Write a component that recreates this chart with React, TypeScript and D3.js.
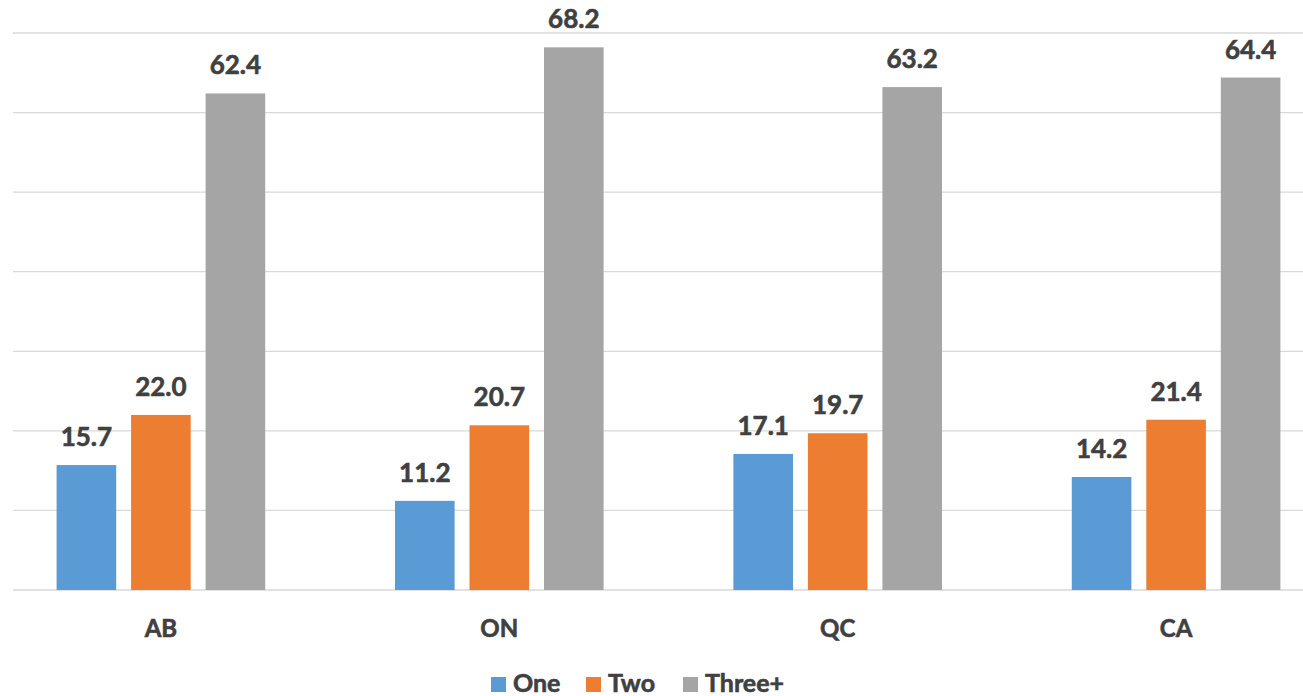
import React from "react";
import * as d3 from "d3";

const categories = ["AB", "ON", "QC", "CA"];
const seriesNames = ["One", "Two", "Three+"];
const one = [15.7, 11.2, 17.1, 14.2];
const two = [22.0, 20.7, 19.7, 21.4];
const threePlus = [62.4, 68.2, 63.2, 64.4];
const yTicks = [0, 10, 20, 30, 40, 50, 60, 70];

const colors = ["#5B9BD5", "#ED7D31", "#A5A5A5"];
const W = 1303;
const H = 696;
const FONT = "Lato, 'Open Sans', sans-serif";
const TEXT = "#404040";

export default function App() {
  const seriesValues = [one, two, threePlus];
  const x0 = d3.scaleBand<string>().domain(categories).range([-8.3, 1345.3]).padding(0);
  const x1 = d3
    .scaleBand<string>()
    .domain(seriesNames)
    .range([0, x0.bandwidth()])
    .paddingInner(0.2)
    .paddingOuter(0.871);
  const y = d3.scaleLinear().domain([0, 70]).range([590, 33]);

  const legendX = [491, 586, 683];
  const textStyle = { stroke: TEXT, strokeWidth: 0.6 };

  return (
    <svg
      width={W}
      height={H}
      style={{ position: "absolute", left: 0, top: 0, background: "#fff" }}
      fontFamily={FONT}
    >
      <rect x={0} y={0} width={W} height={H} fill="#fff" />
      {yTicks.map((t) => (
        <line key={t} x1={13} x2={W} y1={y(t)} y2={y(t)} stroke="#D9D9D9" strokeWidth={1.3} />
      ))}
      {categories.map((c, ci) => (
        <g key={c} transform={`translate(${x0(c)},0)`}>
          {seriesNames.map((s, si) => {
            const v = seriesValues[si][ci];
            const bx = x1(s)!;
            const bw = x1.bandwidth();
            return (
              <g key={s}>
                <rect x={bx} y={y(v)} width={bw} height={y(0) - y(v)} fill={colors[si]} />
                <text
                  x={bx + bw / 2}
                  y={y(v) - 19}
                  textAnchor="middle"
                  fontSize={26}
                  fontWeight="bold"
                  fill={TEXT}
                  style={textStyle}
                >
                  {v.toFixed(1)}
                </text>
              </g>
            );
          })}
          <text
            x={x0.bandwidth() / 2}
            y={637}
            textAnchor="middle"
            fontSize={24}
            fontWeight="bold"
            fill={TEXT}
            style={textStyle}
          >
            {c}
          </text>
        </g>
      ))}
      {seriesNames.map((s, si) => (
        <g key={s} transform={`translate(${legendX[si]},0)`}>
          <rect x={0} y={677} width={15} height={15} fill={colors[si]} />
          <text x={22} y={691.5} fontSize={25} fontWeight="bold" fill={TEXT} style={textStyle}>
            {s}
          </text>
        </g>
      ))}
    </svg>
  );
}
